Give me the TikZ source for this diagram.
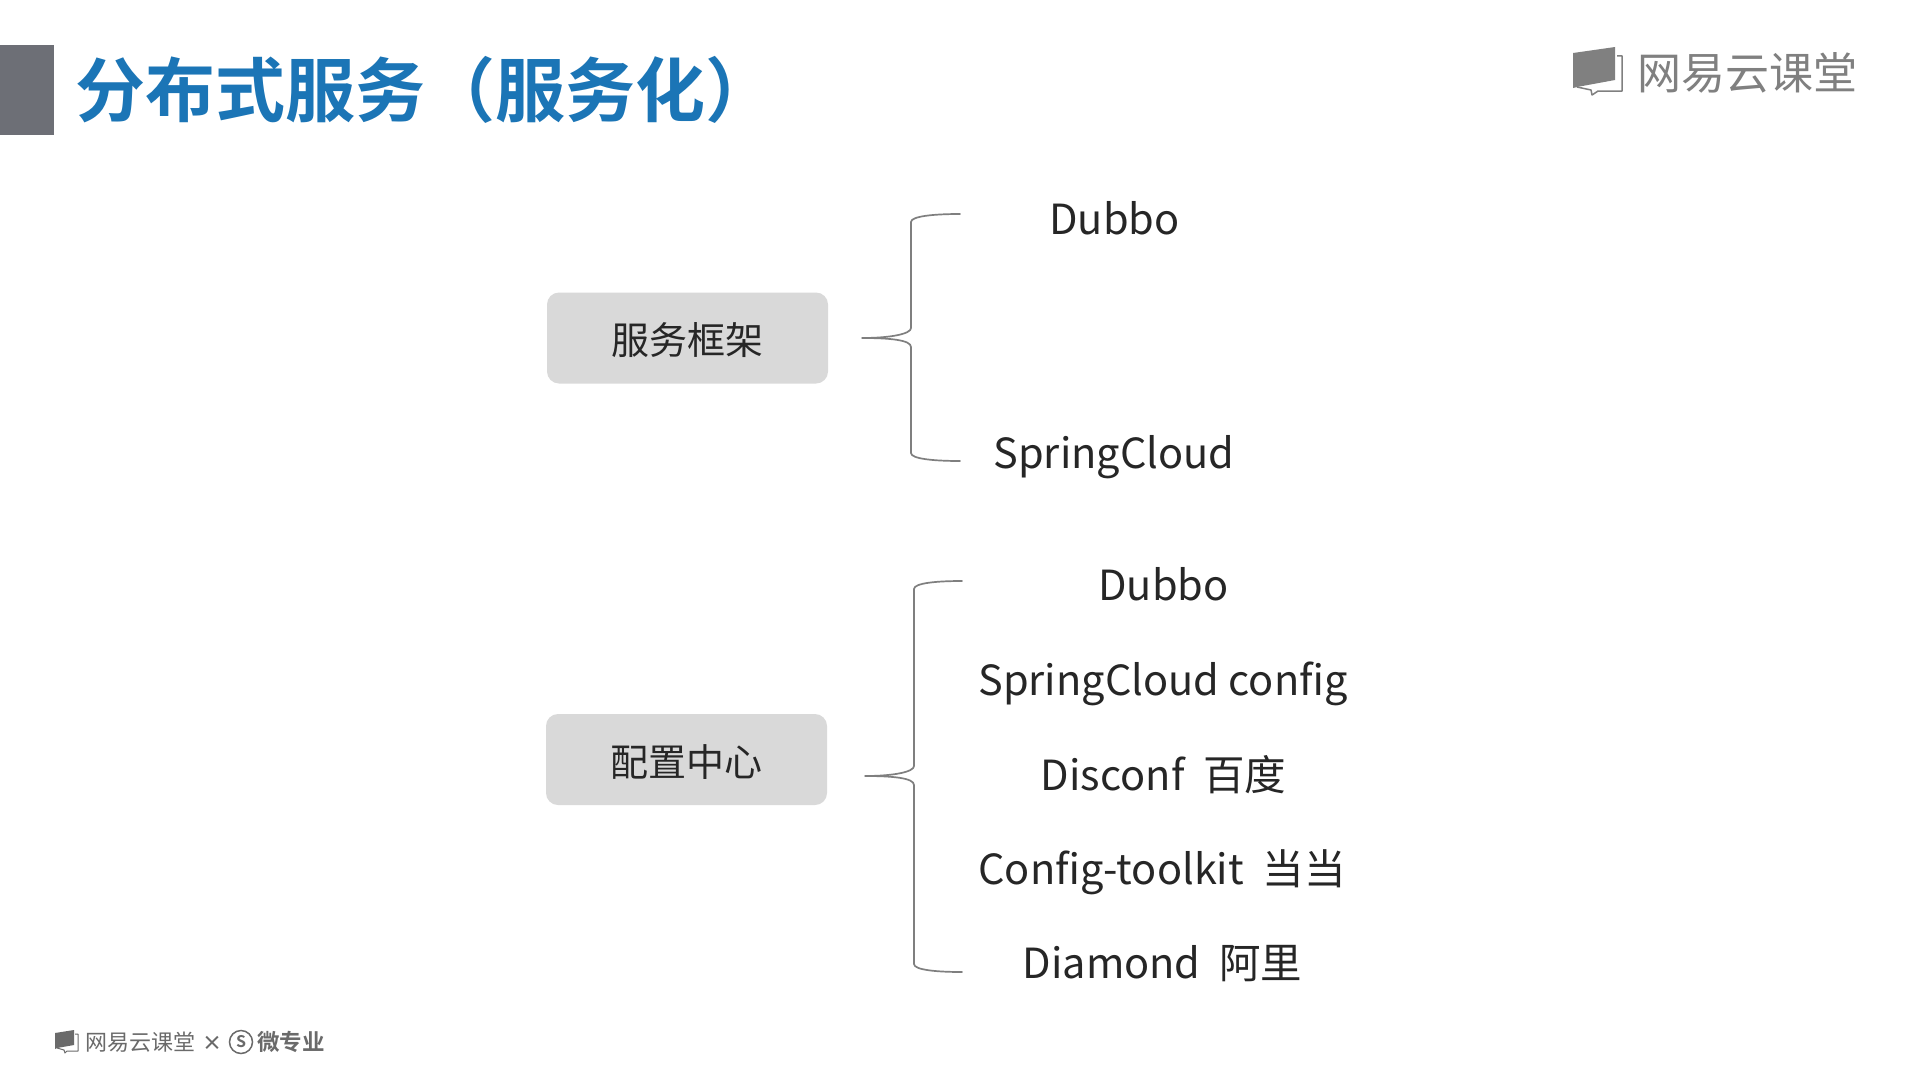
\documentclass[tikz,border=0pt]{standalone}
\usepackage{fontspec}
\usetikzlibrary{calc}
\setmainfont{Noto Sans CJK SC}
\newfontfamily\cjkb{Noto Sans CJK SC Bold}
\definecolor{titleblue}{HTML}{1B75B6}
\definecolor{sq}{HTML}{6D6F76}
\definecolor{boxg}{HTML}{D9D9D9}
\definecolor{brace}{HTML}{7F7F7F}
\definecolor{logog}{HTML}{808080}
\definecolor{footg}{HTML}{6A6A6A}
\definecolor{ink}{HTML}{262626}
\tikzset{
  box/.style={fill=boxg,rounded corners=12pt,minimum width=281pt,minimum height=91pt,inner sep=0pt,text=ink,text height=41pt,text depth=8pt,font=\fontsize{38}{42}\selectfont},
  item/.style={inner sep=0pt,text=ink,anchor=base,font=\fontsize{41.5}{46}\selectfont},
  bracepath/.style={draw=brace,line width=1.7pt,line cap=round},
  logotext/.style={inner sep=0pt,text=logog}
}
\begin{document}
\begin{tikzpicture}[x=1pt,y=-1pt]
\useasboundingbox (0,0) rectangle (1910,1073);
\fill[white] (0,0) rectangle (1910,1073);
\fill[sq] (0,45) rectangle (54,135);
\node[inner sep=0pt,anchor=west,text=titleblue] (title) at (75.5,90) {\fontsize{70}{74}\cjkb 分布式服务（服务化）};
% top-right logo
\fill[logog] (1573,53) -- (1615,47) -- (1615,80) -- (1577,87) -- (1573,88) -- cycle;
\draw[logog,line width=1.5pt,line join=round] (1617,56) -- (1622,56) -- (1622,91) -- (1598,91) -- (1592,95) -- (1591,90) -- (1577,87);
\node[logotext,anchor=west] (logo) at (1637,73) {\fontsize{44}{48}\selectfont 网易云课堂};
% footer
\fill[footg] (55,1033) -- (74,1030) -- (74,1045) -- (57,1048) -- (55,1049) -- cycle;
\draw[footg,line width=1pt,line join=round] (75,1034) -- (78,1034) -- (78,1051) -- (67,1051) -- (65,1053) -- (64,1050) -- (57,1048);
\node[logotext,anchor=west,text=footg] (foot) at (85,1042) {\fontsize{22}{24}\selectfont 网易云课堂};
\node[logotext,anchor=center,text=footg] (times) at (212,1043) {\fontsize{20}{22}\cjkb ×};
\node[circle,draw=footg,line width=1.5pt,inner sep=0pt,minimum size=23pt,text=footg] (scircle) at (241,1042) {\fontsize{16}{18}\cjkb S};
\node[logotext,anchor=west,text=footg] (foot2) at (257,1042) {\fontsize{22.5}{24}\cjkb 微专业};
% boxes
\node[box] (b1) at (687.5,338) {服务框架};
\node[box] (b2) at (686.5,759.5) {配置中心};
% items
\node[item] (d1) at (1114.5,234) {Dubbo};
\node[item] (s1) at (1114,468) {SpringCloud};
\node[item] (d2) at (1163.5,600.5) {Dubbo};
\node[item] (s2) at (1163,695) {SpringCloud config};
\node[item] (c1) at (1163.5,790) {Disconf\ \ 百度};
\node[item] (c2) at (1162,884) {Config-toolkit\ \ 当当};
\node[item] (c3) at (1162.5,978.5) {Diamond\ \ 阿里};
% brace anchors
\coordinate (t1) at ($(b1.east)+(34,0)$);
\coordinate (t2) at ($(b2.east)+(38,16.5)$);
\coordinate (e1a) at (960,214);
\coordinate (e1b) at (960,461);
\coordinate (e2a) at (962,581);
\coordinate (e2b) at (962,972);
\draw[bracepath] (e1a) .. controls (935,214) and (911,216) .. (911,222) -- (911,328) .. controls (911,334) and (890,338) .. (t1);
\draw[bracepath] (t1) .. controls (890,338) and (911,340) .. (911,347) -- (911,453) .. controls (911,459) and (935,461) .. (e1b);
\draw[bracepath] (e2a) .. controls (937,581) and (914,583) .. (914,589) -- (914,766) .. controls (914,772) and (893,776) .. (t2);
\draw[bracepath] (t2) .. controls (893,776) and (914,778) .. (914,785) -- (914,964) .. controls (914,970) and (937,972) .. (e2b);
\end{tikzpicture}
\end{document}
